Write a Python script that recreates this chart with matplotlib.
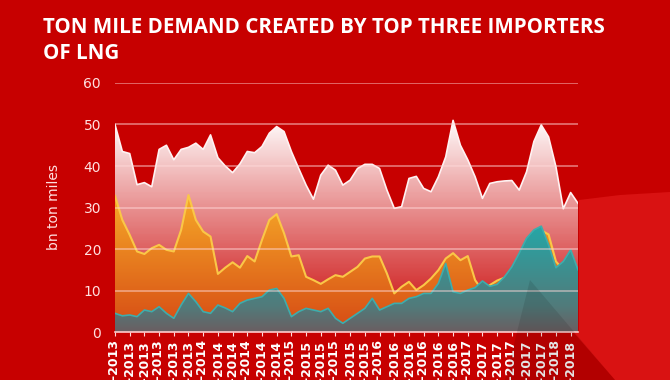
import matplotlib
matplotlib.use("Agg")
import matplotlib.pyplot as plt
from matplotlib.patches import PathPatch, Polygon
import numpy as np

# monthly values, Jan-2013 .. Apr-2018 (bn ton miles)
white_vals = [50, 43.5, 43, 35.5, 36, 35, 44, 45, 41.5, 44, 44.5, 45.5, 44, 47.5, 42, 40,
              38.4, 40.5, 43.5, 43.2, 44.7, 47.9, 49.5, 48.3, 43.5, 39.4, 35.4, 32, 37.8, 40.2, 39, 35.4,
              36.6, 39.4, 40.4, 40.4, 39.4, 34.2, 29.8, 30.2, 37, 37.5, 34.6, 33.8, 37.4, 42.2, 51, 45,
              41.5, 37.4, 32.2, 35.8, 36.2, 36.4, 36.5, 34.2, 38.6, 45.9, 49.9, 47, 39.8, 29.7, 33.6, 31]
orange_vals = [32.8, 27, 23.4, 19.4, 18.8, 20.2, 21, 19.8, 19.4, 24.6, 33, 27, 24.2, 23, 14, 15.5,
               16.8, 15.5, 18.3, 17, 22.2, 27, 28.4, 23.8, 18.2, 18.5, 13.3, 12.5, 11.6, 12.7, 13.7, 13.3,
               14.5, 15.7, 17.7, 18.2, 18.2, 14.1, 9.3, 10.9, 12.1, 10.1, 11.3, 12.9, 14.9, 17.7, 19, 17.3,
               18.3, 12.5, 10, 11.3, 12.4, 13.1, 15, 18, 21.5, 23.5, 24.5, 23.5, 17, 15, 17, 14]
teal_vals = [4.5, 3.9, 4.1, 3.7, 5.3, 4.9, 6.1, 4.5, 3.3, 6.5, 9.3, 7.3, 4.9, 4.5, 6.5, 5.8,
             4.9, 6.9, 7.7, 8.1, 8.5, 10.1, 10.5, 8.1, 3.7, 4.9, 5.7, 5.3, 4.9, 5.7, 3.3, 2.1,
             3.3, 4.5, 5.7, 8.1, 5.3, 6.1, 6.9, 6.9, 8.1, 8.5, 9.3, 9.3, 11.7, 16.5, 9.7, 9.3,
             10.1, 10.7, 12.3, 11, 11.5, 13.3, 15.7, 19, 22.6, 24.6, 25.5, 21, 15.5, 17, 19.8, 15]

months = ["Jan", "Mar", "May", "Jul", "Sep", "Nov"]
tick_labels = [f"{m}-{yr}" for yr in range(2013, 2019) for m in months][:32]

W, H = 670, 380
BG = (0.78, 0.0, 0.0)

fig = plt.figure(figsize=(W / 100, H / 100), dpi=100)
fig.patch.set_facecolor(BG)


def fig_poly(pts, **kw):
    # polygon given in picture pixels (top-left origin)
    return Polygon([(px / W, 1 - py / H) for px, py in pts], closed=True,
                   transform=fig.transFigure, edgecolor='none', **kw)


# decorative shapes of the slide background
light = [(579, 200), (620, 195), (670, 192), (670, 380), (615, 380), (574, 333), (579, 333)]
fig.patches.append(fig_poly(light, facecolor=(0.85, 0.07, 0.07), zorder=0))

ax = fig.add_axes([115 / W, 1 - 332 / H, 463 / W, 249 / H])
ax.patch.set_alpha(0)
ax.set_zorder(1)

wedge = [(530, 280), (505, 380), (615, 380)]
fig.patches.append(fig_poly(wedge, facecolor='black', alpha=0.10, zorder=2))

x = np.arange(len(white_vals))


def grad_fill(ax, x, y, stops, alpha_fn=None, zorder=1):
    poly = ax.fill_between(x, 0, y, facecolor='none', edgecolor='none')
    patch = PathPatch(poly.get_paths()[0], transform=ax.transData,
                      facecolor='none', edgecolor='none')
    ax.add_patch(patch)
    v = np.linspace(0, 60, 300)
    sv = [s[0] for s in stops]
    rgb = np.stack([np.interp(v, sv, [s[1][i] for s in stops]) for i in range(3)], axis=1)
    a = np.ones_like(v) if alpha_fn is None else alpha_fn(v)
    img = np.concatenate([rgb, a[:, None]], axis=1).reshape(300, 1, 4)
    im = ax.imshow(img, extent=[x[0], x[-1], 0, 60], origin='lower', aspect='auto',
                   zorder=zorder, interpolation='bilinear')
    im.set_clip_path(patch)


grad_fill(ax, x, white_vals, [(0, (1, 0.9, 0.9)), (52, (1, 1, 1))],
          alpha_fn=lambda v: np.clip(0.03 + v * 0.019, 0, 1), zorder=1)
ax.plot(x, white_vals, color=(1, 0.95, 0.95), lw=1.2, zorder=2)

grad_fill(ax, x, orange_vals, [(0, (0.84, 0.29, 0.08)), (34, (0.97, 0.68, 0.16))], zorder=3)
ax.plot(x, orange_vals, color=(0.98, 0.78, 0.28), lw=1.5, zorder=4)

grad_fill(ax, x, teal_vals, [(0, (0.42, 0.37, 0.38)), (6, (0.32, 0.48, 0.48)),
                             (26, (0.14, 0.66, 0.66))], zorder=5)
ax.plot(x, teal_vals, color=(0.24, 0.68, 0.68), lw=1.2, zorder=6)

for g in range(10, 61, 10):
    ax.axhline(g, color=(1, 0.85, 0.85), alpha=0.55, lw=1.2, zorder=7)

ax.set_xlim(0, len(white_vals) - 1)
ax.set_ylim(0, 60)
ax.set_yticks(range(0, 61, 10))
ax.set_xticks(np.arange(0, 63, 2))
ax.set_xticklabels(tick_labels, rotation=90, fontsize=9, fontweight='bold', color='white')
ax.tick_params(axis='y', length=0, pad=10, labelsize=10, labelcolor=(1, 0.88, 0.88))
ax.tick_params(axis='x', length=3, color=(1, 0.85, 0.85), pad=3)
for s in ['top', 'right', 'left']:
    ax.spines[s].set_visible(False)
ax.spines['bottom'].set_color((1, 0.8, 0.8))
ax.spines['bottom'].set_linewidth(1.2)
ax.spines['bottom'].set_zorder(8)

ax.set_ylabel('bn ton miles', color=(1, 0.88, 0.88), fontsize=10, labelpad=16)

fig.text(43 / W, 1 - 17 / H, 'TON MILE DEMAND CREATED BY TOP THREE IMPORTERS\nOF LNG',
         color='white', fontsize=14.8, fontweight='bold', va='top', ha='left',
         family='Open Sans', linespacing=1.3)

fig.savefig('out.png', dpi=100, facecolor=fig.get_facecolor())
